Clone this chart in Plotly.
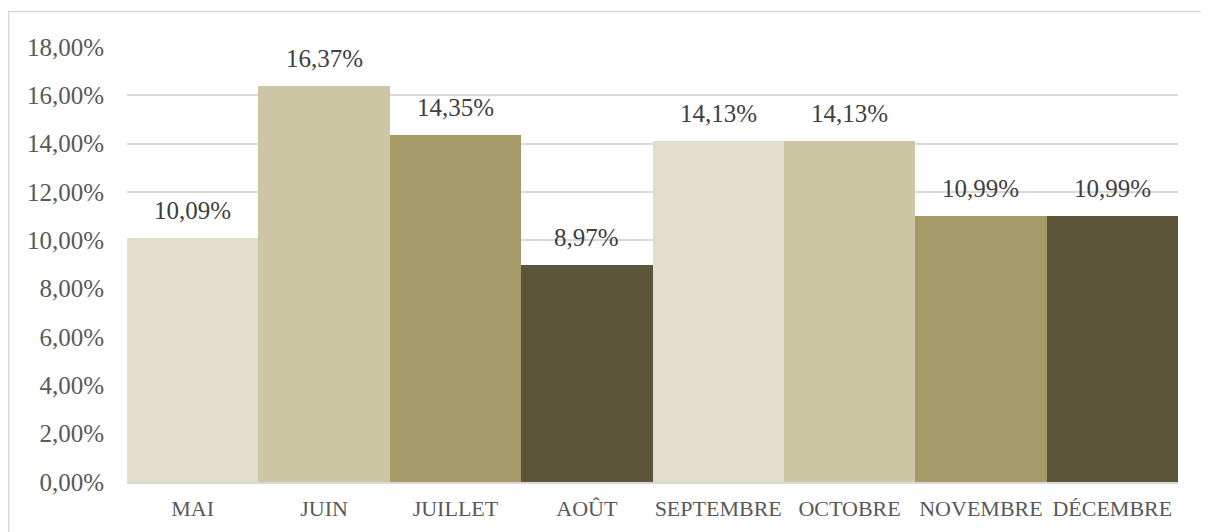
import plotly.graph_objects as go

months = ["MAI", "JUIN", "JUILLET", "AOÛT", "SEPTEMBRE", "OCTOBRE", "NOVEMBRE", "DÉCEMBRE"]
values = [10.09, 16.37, 14.35, 8.97, 14.13, 14.13, 10.99, 10.99]
colors = ["#E1DFCB", "#CDC7A5", "#A69A69", "#5D5539", "#E1DFCB", "#CDC7A5", "#A69A69", "#5D5539"]
tick_vals = [0, 2, 4, 6, 8, 10, 12, 14, 16, 18]
tick_text = [f"{v:.2f}".replace(".", ",") + "%" for v in tick_vals]
labels = [f"{v:.2f}".replace(".", ",") + "%" for v in values]

FONT = "Liberation Serif"
W, H = 1209, 532
# page is offset by the 8px body margin
L, R, T, B = 119, 39, 39, 58

fig = go.Figure(go.Bar(
    x=months, y=values, marker=dict(color=colors, line=dict(width=0)),
    cliponaxis=False,
))

for m, v, t in zip(months, values, labels):
    fig.add_annotation(x=m, y=v, text=t, showarrow=False, yanchor="bottom",
                       yshift=12, font=dict(family=FONT, size=25, color="#404040"))

pw = W - L - R
ph = H - T - B
fig.update_layout(
    width=W, height=H,
    margin=dict(l=L, r=R, t=T, b=B),
    paper_bgcolor="white", plot_bgcolor="white",
    bargap=0, showlegend=False,
    font=dict(family=FONT, color="#595959"),
    xaxis=dict(showgrid=False, showline=True, linecolor="#D9D9D9", linewidth=1.5,
               tickfont=dict(family=FONT, size=22, color="#595959"), ticks="",
               ticklabelstandoff=6),
    yaxis=dict(range=[0, 18], tickvals=tick_vals, ticktext=tick_text,
               showgrid=True, gridcolor="#D9D9D9", gridwidth=1.5, zeroline=False,
               tickfont=dict(family=FONT, size=25, color="#595959"), ticks="", ticklabelstandoff=22),
    shapes=[dict(type="rect", xref="paper", yref="paper",
                 x0=(0.75 - L) / pw, x1=(W + 20 - L) / pw,
                 y0=(H - B - (H + 20)) / ph, y1=(H - B - 3.5) / ph,
                 line=dict(color="#D9D9D9", width=1.5), layer="below")],
)
fig.write_html("out.html")
